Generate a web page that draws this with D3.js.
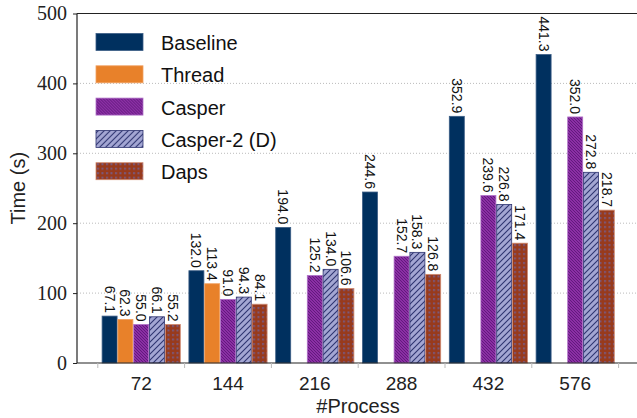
<!DOCTYPE html>
<html lang="en">
<head>
<meta charset="utf-8">
<script src="https://d3js.org/d3.v7.min.js"></script>
<style>
  body { margin: 0; background: white; }
  svg { display: block; }
</style>
</head>
<body>
<svg id="chart" width="637" height="418"></svg>
<script>
// data
const processes = ["72", "144", "216", "288", "432", "576"];
const seriesNames = ["Baseline", "Thread", "Casper", "Casper-2 (D)", "Daps"];
const baseline = [67.1, 132.0, 194.0, 244.6, 352.9, 441.3];
const thread = [62.3, 113.4, null, null, null, null];
const casper = [55.0, 91.0, 125.2, 152.7, 239.6, 352.0];
const casper2 = [66.1, 94.3, 134.0, 158.3, 226.8, 272.8];
const daps = [55.2, 84.1, 106.6, 126.8, 171.4, 218.7];
const yTicks = [0, 100, 200, 300, 400, 500];

const allSeries = [baseline, thread, casper, casper2, daps];

const svg = d3.select("#chart");
const plotL = 77, plotR = 637, plotT = 13.5, plotB = 363;
const sans = "Liberation Sans, Arial, sans-serif";

// patterns
const defs = svg.append("defs");
// Casper: dense back-slash hatch
let p = defs.append("pattern").attr("id", "pCasper").attr("patternUnits", "userSpaceOnUse")
  .attr("width", 3).attr("height", 3);
p.append("rect").attr("width", 3).attr("height", 3).attr("fill", "#8c2fa5");
p.append("path").attr("d", "M-1,-1 L4,4 M-1,2 L1,4 M2,-1 L4,1").attr("stroke", "#5c1878").attr("stroke-width", 0.9);
// Casper-2: forward-slash hatch
p = defs.append("pattern").attr("id", "pCasper2").attr("patternUnits", "userSpaceOnUse")
  .attr("width", 6).attr("height", 6);
p.append("rect").attr("width", 6).attr("height", 6).attr("fill", "#a3a6d3");
p.append("path").attr("d", "M-1,7 L7,-1 M-1,1 L1,-1 M5,7 L7,5").attr("stroke", "#2e3470").attr("stroke-width", 1.1);
// Daps: dots
p = defs.append("pattern").attr("id", "pDaps").attr("patternUnits", "userSpaceOnUse")
  .attr("width", 4.5).attr("height", 4.5);
p.append("rect").attr("width", 4.5).attr("height", 4.5).attr("fill", "#983a1c");
p.append("rect").attr("x", 1).attr("y", 1).attr("width", 2).attr("height", 2).attr("fill", "#7a5a80");

const fills = ["#00305f", "#e8812a", "url(#pCasper)", "url(#pCasper2)", "url(#pDaps)"];
const strokes = ["#3b5d85", "#f0a060", "#b070c8", "#2e3470", "#d08a70"];

const y = d3.scaleLinear().domain([0, 500]).range([plotB, plotT]);
const x = d3.scaleBand().domain(processes).range([97.8, 618.6]).paddingInner(0.09).paddingOuter(0.045);
const xs = d3.scaleBand().domain(seriesNames).range([0, x.bandwidth()]);

// grid
svg.append("g").selectAll("line").data(yTicks.filter(d => d > 0 && d < 500)).join("line")
  .attr("x1", plotL).attr("x2", plotR).attr("y1", d => y(d)).attr("y2", d => y(d))
  .attr("stroke", "#aaaaaa").attr("stroke-width", 0.8).attr("stroke-dasharray", "1,2");

// bars
const bars = [];
allSeries.forEach((vals, si) => vals.forEach((v, gi) => {
  if (v !== null) bars.push({ s: si, g: processes[gi], v: v });
}));
const gb = svg.append("g");
gb.selectAll("rect").data(bars).join("rect")
  .attr("x", d => x(d.g) + xs(seriesNames[d.s]) + 0.4)
  .attr("y", d => y(d.v))
  .attr("width", xs.bandwidth() - 0.8)
  .attr("height", d => y(0) - y(d.v))
  .attr("fill", d => fills[d.s])
  .attr("stroke", d => strokes[d.s])
  .attr("stroke-width", 0.8);

// value labels
gb.selectAll("text").data(bars).join("text")
  .attr("transform", d => `translate(${x(d.g) + xs(seriesNames[d.s]) + xs.bandwidth() / 2},${y(d.v) - 3}) rotate(90)`)
  .attr("text-anchor", "end").attr("dominant-baseline", "central")
  .attr("font-family", sans).attr("font-size", 14)
  .attr("fill", "#111")
  .text(d => d.v.toFixed(1));

// spines
svg.append("line").attr("x1", plotL).attr("x2", plotR).attr("y1", plotT).attr("y2", plotT).attr("stroke", "#222").attr("stroke-width", 1.2);
svg.append("line").attr("x1", plotL).attr("x2", plotR).attr("y1", plotB).attr("y2", plotB).attr("stroke", "#222").attr("stroke-width", 1.2);
svg.append("line").attr("x1", plotL).attr("x2", plotL).attr("y1", plotT).attr("y2", plotB).attr("stroke", "#222").attr("stroke-width", 1.2);

// y axis
const ya = svg.append("g").attr("transform", `translate(${plotL},0)`)
  .call(d3.axisLeft(y).tickValues(yTicks).tickSize(4).tickPadding(6));
ya.select(".domain").remove();
ya.selectAll("line").attr("stroke", "#222");
ya.selectAll("text").attr("font-family", "Liberation Serif, DejaVu Serif, serif").attr("font-size", 20).attr("fill", "#222");

// x axis: ticks at group boundaries, labels at centres
const step = x.step();
const bTicks = d3.range(7).map(i => x.range()[0] + i * step);
svg.append("g").selectAll("line").data(bTicks).join("line")
  .attr("x1", d => d).attr("x2", d => d).attr("y1", plotB).attr("y2", plotB + 5)
  .attr("stroke", "#bbbbbb").attr("stroke-width", 1);
svg.append("g").selectAll("text").data(processes).join("text")
  .attr("x", d => x(d) + x.bandwidth() / 2).attr("y", 390)
  .attr("text-anchor", "middle")
  .attr("font-family", sans).attr("font-size", 19).attr("fill", "#222")
  .text(d => d);

// axis titles
svg.append("text").attr("x", 358).attr("y", 413).attr("text-anchor", "middle")
  .attr("font-family", sans).attr("font-size", 20).attr("fill", "#222")
  .text("#Process");
svg.append("text").attr("transform", `translate(25,${(plotT + plotB) / 2}) rotate(-90)`).attr("text-anchor", "middle")
  .attr("font-family", sans).attr("font-size", 20).attr("fill", "#222")
  .text("Time (s)");

// legend
const lg = svg.append("g").selectAll("g").data(seriesNames).join("g")
  .attr("transform", (d, i) => `translate(96,${42 + i * 32.3})`);
lg.append("rect").attr("x", 0).attr("y", -8.5).attr("width", 47).attr("height", 17)
  .attr("fill", (d, i) => fills[i]).attr("stroke", (d, i) => strokes[i]).attr("stroke-width", 0.8);
lg.append("text").attr("x", 65).attr("y", 1).attr("dominant-baseline", "central")
  .attr("font-family", sans).attr("font-size", 20).attr("fill", "#111")
  .text(d => d);
</script>
</body>
</html>
